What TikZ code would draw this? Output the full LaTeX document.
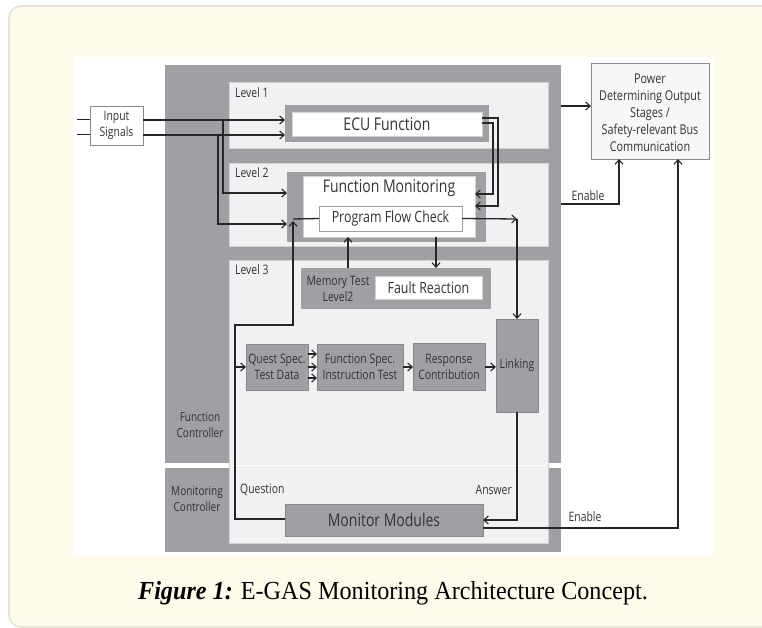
\documentclass[tikz,border=0pt]{standalone}
\usepackage{fontspec}
\setmainfont{Liberation Serif}
\newfontfamily\dg[FakeStretch=0.8]{Open Sans}
\newfontfamily\capfont[FakeStretch=0.93]{Liberation Serif}
\usetikzlibrary{arrows.meta}

\definecolor{cream}{HTML}{FFFBEA}
\definecolor{frameline}{HTML}{E8E5D8}
\definecolor{panel}{HTML}{A09FA3}
\definecolor{levelbg}{HTML}{F1F1F1}
\definecolor{levelline}{HTML}{D2D2D4}
\definecolor{ink}{HTML}{333333}
\definecolor{wire}{HTML}{262626}

\tikzset{
  blk/.style={anchor=north west, inner sep=0pt, outer sep=0pt},
  graypanel/.style={blk, fill=panel},
  levelbox/.style={blk, fill=levelbg, draw=levelline, line width=0.8pt},
  whitebox/.style={blk, fill=white, draw=levelline, line width=0.8pt},
  graybox/.style={blk, fill=panel, draw=panel!85!black, line width=0.6pt},
  lbl/.style={font=\dg\fontsize{13}{16}\selectfont, text=ink, inner sep=0pt, align=center},
  biglbl/.style={font=\dg\fontsize{17.5}{20}\selectfont, text=ink, inner sep=0pt},
  midlbl/.style={font=\dg\fontsize{15.5}{18}\selectfont, text=ink, inner sep=0pt},
  wr/.style={draw=wire, line width=1.3pt},
  arr/.style={wr, -{Straight Barb[length=4.5pt,width=8pt,line width=1.1pt]}},
}

\begin{document}
\begin{tikzpicture}[x=1pt,y=-1pt]
\useasboundingbox (0,0) rectangle (762,628);

% page background and figure area
\fill[cream, draw=frameline, line width=2pt, rounded corners=12pt] (9,6) rectangle (790,627);
\fill[white] (73,57) rectangle (713,556);

% controller panels
\node[graypanel, minimum width=396pt, minimum height=398pt] (fc) at (165,65) {};
\node[graypanel, minimum width=396pt, minimum height=84pt] (mc) at (165,468) {};

% levels
\node[levelbox, minimum width=319pt, minimum height=66pt] (lv1) at (229,82) {};
\node[levelbox, minimum width=319pt, minimum height=83pt] (lv2) at (229,163) {};
\node[levelbox, minimum width=319pt, minimum height=283pt] (lv3) at (229,260) {};
\draw[white, line width=1pt] (229.5,465) -- (547.5,465);

\node[lbl, anchor=west] (l1) at (235,93) {Level 1};
\node[lbl, anchor=west] (l2) at (235,173) {Level 2};
\node[lbl, anchor=west] (l3) at (235,270) {Level 3};
\node[lbl, font=\dg\fontsize{12.5}{16}\selectfont] (fct) at (200,425) {Function\\Controller};
\node[lbl, font=\dg\fontsize{12.5}{16}\selectfont] (mct) at (197,499) {Monitoring\\Controller};

% level 1
\node[graypanel, minimum width=204pt, minimum height=37pt] (ecuO) at (285,105) {};
\node[whitebox, minimum width=190pt, minimum height=24pt] (ecu) at (292,112) {};
\node[biglbl] (ecut) at (ecu.center) {ECU Function};

% level 2
\node[graypanel, minimum width=199pt, minimum height=70pt] (fmO) at (287,172) {};
\node[whitebox, minimum width=172pt, minimum height=61pt] (fm) at (303,176) {};
\node[biglbl] (fmt) at (389,188) {Function Monitoring};
\node[whitebox, draw=panel, minimum width=143pt, minimum height=25pt] (pfc) at (319,206) {};
\node[midlbl] (pfct) at (pfc.center) {Program Flow Check};

% level 3
\node[graypanel, minimum width=190pt, minimum height=41pt] (mem) at (301,268) {};
\node[lbl] (memt) at (338,289) {Memory Test\\Level2};
\node[whitebox, minimum width=107pt, minimum height=23pt] (fr) at (375,276) {};
\node[midlbl] (frt) at (fr.center) {Fault Reaction};

\node[graybox, minimum width=62pt, minimum height=46pt] (qs) at (246,344) {};
\node[lbl] (qst) at (qs.center) {Quest Spec.\\Test Data};
\node[graybox, minimum width=86pt, minimum height=46pt] (fs) at (317,344) {};
\node[lbl] (fst) at (fs.center) {Function Spec.\\Instruction Test};
\node[graybox, minimum width=72pt, minimum height=47pt] (rc) at (413,343) {};
\node[lbl] (rct) at (rc.center) {Response\\Contribution};
\node[graybox, minimum width=42pt, minimum height=93pt] (lk) at (496,319) {};
\node[lbl] (lkt) at (lk.center) {Linking};

% monitoring controller
\node[graybox, minimum width=198pt, minimum height=32pt] (mm) at (285,504) {};
\node[biglbl] (mmt) at (mm.center) {Monitor Modules};
\node[lbl, anchor=west] (qlab) at (240,490) {Question};
\node[lbl, anchor=east] (alab) at (512,490) {Answer};

% external boxes
\node[blk, fill=white, draw=black!45, line width=0.8pt, minimum width=53pt, minimum height=39pt] (inp) at (90,106) {};
\node[lbl] (inpt) at (inp.center) {Input\\Signals};
\node[blk, fill=black!3, draw=black!45, line width=0.8pt, minimum width=118pt, minimum height=96pt] (pw) at (591,63) {};
\node[lbl, font=\dg\fontsize{13.5}{17}\selectfont] (pwt) at (650,113) {Power\\Determining Output\\Stages /\\Safety-relevant Bus\\Communication};

\node[lbl] (en1) at (588,196) {Enable};
\node[lbl] (en2) at (585,517) {Enable};

% junction points
\coordinate (inA) at (77,120);
\coordinate (inB) at (77,135);
\coordinate (pj) at (517,219);

% input signals
\draw[wr, line width=1pt] (inA) -- (inA -| inp.west);
\draw[wr, line width=1pt] (inB) -- (inB -| inp.west);
\draw[arr] (inp.east |- inA) -- (ecuO.west |- inA);
\draw[arr] (inp.east |- inB) -- (ecuO.west |- inB);
\draw[arr] (223,120) -- (223,193) -- (fmO.west |- 0,193);
\draw[arr] (218,135) -- (218,224) -- (fmO.west |- 0,224);

% ECU function to function monitoring
\draw[arr] (ecu.east |- 0,118) -- (498,118) -- (498,206) -- (fm.east |- 0,206);
\draw[arr] (ecu.east |- 0,123) -- (493,123) -- (493,194) -- (fm.east |- 0,194);

% program flow check
\draw[arr] (pfc.east) -- (pj);
\draw[arr] (pj) -- (lk.north);
\draw[arr] (436,237) -- (mem.north -| 436,0);
\draw[arr] (mem.north -| 348,0) -- (348,237);
\draw[wr] (pfc.west) -- (293,219);

% question path
\draw[arr] (mm.west |- 0,519) -- (235,519) -- (235,325) -- (293,325) -- (293,221);
\draw[arr] (235,367) -- (qs.west |- 0,367);

% level 3 chain
\draw[arr] (qs.east |- 0,354) -- (fs.west |- 0,354);
\draw[arr] (qs.east |- 0,367) -- (fs.west |- 0,367);
\draw[arr] (qs.east |- 0,378) -- (fs.west |- 0,378);
\draw[arr] (fs.east |- 0,367) -- (rc.west |- 0,367);
\draw[arr] (rc.east |- 0,367) -- (lk.west |- 0,367);

% answer and enable paths
\draw[arr] (lk.south) -- (517,520) -- (mm.east |- 0,520);
\draw[arr] (mm.east |- 0,528) -- (678,528) -- (pw.south -| 678,0);
\draw[arr] (fc.east |- 0,106) -- (pw.west |- 0,106);
\draw[arr] (fc.east |- 0,204) -- (619,204) -- (pw.south -| 619,0);

% caption
\node[font=\capfont\fontsize{26}{30}\selectfont, text=black, inner sep=0pt] (cap) at (393,593)
  {\textbf{\textit{Figure 1:}} E-GAS Monitoring Architecture Concept.};
\end{tikzpicture}
\end{document}
